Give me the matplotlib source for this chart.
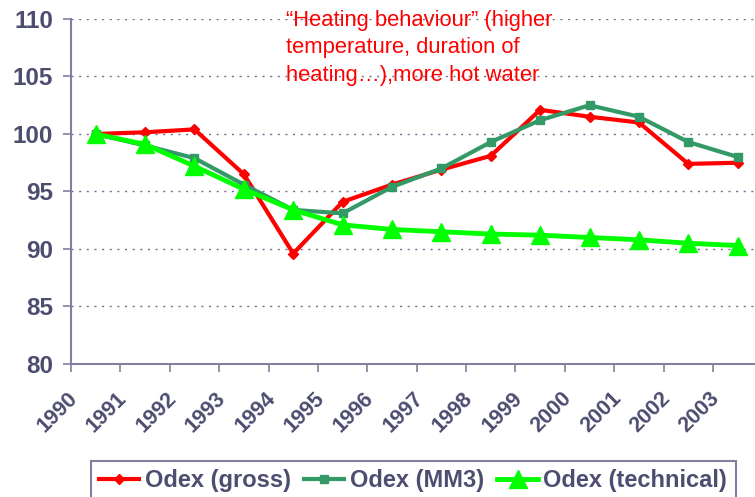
import numpy as np
import matplotlib.pyplot as plt
import matplotlib.transforms as mtransforms

years = ['1990', '1991', '1992', '1993', '1994', '1995', '1996',
         '1997', '1998', '1999', '2000', '2001', '2002', '2003']
gross = [100.0, 100.15, 100.4, 96.5, 89.6, 94.1, 95.6, 96.9, 98.1, 102.1, 101.5, 101.0, 97.4, 97.5]
mm3 = [100.0, 99.0, 97.9, 95.6, 93.4, 93.1, 95.4, 97.0, 99.3, 101.2, 102.5, 101.5, 99.3, 98.0]
technical = [100.0, 99.1, 97.2, 95.2, 93.4, 92.1, 91.7, 91.5, 91.3, 91.2, 91.0, 90.8, 90.5, 90.3]

plt.rcParams['font.family'] = ['Liberation Sans', 'DejaVu Sans']
txt_col = '#4d4d70'
ax_col = '#8080a0'

fig = plt.figure(figsize=(7.55, 4.97), dpi=100)
ax = fig.add_axes([0.094, 0.2676, 0.906, 0.6942])

x = np.arange(len(years))
ax.plot(x, gross, '-D', color='#ff0000', lw=3, ms=5, label='Odex (gross)', zorder=3)
ax.plot(x, mm3, '-s', color='#339966', lw=3, ms=6, label='Odex (MM3)', zorder=4)
ax.plot(x, technical, '-^', color='#00ff00', lw=3.5, ms=13, label='Odex (technical)', zorder=5)

ax.set_ylim(80, 110)
ax.set_yticks(np.arange(80, 111, 5))
ax.set_xlim(-0.5, 13.35)
ax.set_xticks(x - 0.5)
ax.set_xticklabels(years, rotation=45, ha='right', va='top')

for v in range(85, 111, 5):
    ax.axhline(v, color='#707090', lw=1, linestyle=(0, (1.5, 4)), zorder=1)

for s in ['top', 'right']:
    ax.spines[s].set_visible(False)
for s in ['left', 'bottom']:
    ax.spines[s].set_color(ax_col)
    ax.spines[s].set_linewidth(1.5)

ax.tick_params(axis='both', direction='out', length=6, width=1.2, color=ax_col, labelcolor=txt_col)
ax.tick_params(axis='y', pad=7, labelsize=17.5)
ax.tick_params(axis='x', pad=11, labelsize=15.5)
for lab in ax.get_yticklabels() + ax.get_xticklabels():
    lab.set_fontweight('bold')
offset = mtransforms.ScaledTranslation(0.11, 0, fig.dpi_scale_trans)
for lab in ax.get_xticklabels():
    lab.set_transform(lab.get_transform() + offset)

fig.text(286 / 755, 1 - 10 / 497,
         '\u201cHeating behaviour\u201d (higher\ntemperature, duration of\nheating\u2026),more hot water',
         color='#ff0000', fontsize=15.8, va='top', ha='left', linespacing=1.4)

leg = fig.legend(loc='upper left', bbox_to_anchor=(91 / 755, 1 - 461 / 497), ncol=3,
                 fancybox=False, edgecolor=ax_col, framealpha=1,
                 prop={'weight': 'bold', 'size': 17}, handlelength=1.7,
                 handletextpad=0.25, columnspacing=0.55, borderpad=0.35, borderaxespad=0)
leg.get_frame().set_linewidth(1.5)
for t in leg.get_texts():
    t.set_color(txt_col)

fig.savefig('out.png', dpi=100)
